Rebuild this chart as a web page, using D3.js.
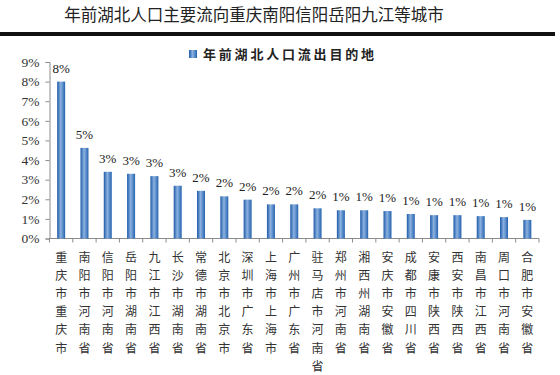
<!DOCTYPE html>
<html>
<head>
<meta charset="utf-8">
<script src="https://cdn.jsdelivr.net/npm/d3@7"></script>
<style>
  body { margin: 0; background: #fff; }
  svg { display: block; }
</style>
</head>
<body>
<script>
// data
var cities = ["重庆市重庆市", "南阳市河南省", "信阳市河南省", "岳阳市湖南省", "九江市江西省",
    "长沙市湖南省", "常德市湖南省", "北京市北京市", "深圳市广东省", "上海市上海市",
    "广州市广东省", "驻马店市河南省", "郑州市河南省", "湘西州湖南省", "安庆市安徽省",
    "成都市四川省", "安康市陕西省", "西安市陕西省", "南昌市江西省", "周口市河南省",
    "合肥市安徽省"];
var shares = [0.080, 0.0462, 0.0340, 0.0330, 0.0318, 0.0269, 0.0243, 0.0215, 0.0198, 0.0174,
    0.0174, 0.0154, 0.0144, 0.0144, 0.0140, 0.0125, 0.0119, 0.0119, 0.0114, 0.0109, 0.0095];
var yTicks = [0, 0.01, 0.02, 0.03, 0.04, 0.05, 0.06, 0.07, 0.08, 0.09];
var title = "年前湖北人口主要流向重庆南阳信阳岳阳九江等城市";
var legendLabel = "年前湖北人口流出目的地";

var width = 560, height = 375,
    margin = {top: 62, right: 21, bottom: 136, left: 49.5},
    pct = d3.format(".0%");

var svg = d3.select("body").append("svg")
    .attr("width", width)
    .attr("height", height);

// bar gradient: darker edges, lighter middle
var grad = svg.append("defs").append("linearGradient")
    .attr("id", "barFill")
    .attr("x1", "0%").attr("x2", "100%");
grad.append("stop").attr("offset", "0%").attr("stop-color", "#1d5aa8");
grad.append("stop").attr("offset", "45%").attr("stop-color", "#8cb2e0");
grad.append("stop").attr("offset", "100%").attr("stop-color", "#2462b0");

// title + rule
svg.append("text")
    .attr("x", 254)
    .attr("y", 21)
    .attr("text-anchor", "middle")
    .style("font-family", "'Noto Sans CJK SC', sans-serif")
    .style("font-size", "16.5px")
    .style("fill", "#222")
    .text(title);

svg.append("rect")
    .attr("x", 0).attr("y", 32)
    .attr("width", 555).attr("height", 4)
    .attr("fill", "#111");

var x = d3.scaleBand()
    .domain(cities)
    .range([margin.left, width - margin.right]);

var y = d3.scaleLinear()
    .domain([0, 0.09])
    .range([height - margin.bottom - 0.5, margin.top]);

// y axis
var yAxis = svg.append("g")
    .attr("transform", "translate(" + margin.left + ",0)")
    .call(d3.axisLeft(y).tickValues(yTicks).tickFormat(pct).tickSize(4).tickPadding(6));
yAxis.select(".domain").attr("stroke", "#8c8c8c");
yAxis.selectAll(".tick line").attr("stroke", "#8c8c8c");
yAxis.selectAll("text")
    .style("font-family", "'Liberation Serif', serif")
    .style("font-size", "13.5px")
    .style("fill", "#333");

// x axis baseline with ticks at band boundaries
var base = y(0);
svg.append("line")
    .attr("x1", margin.left).attr("x2", width - margin.right)
    .attr("y1", base).attr("y2", base)
    .attr("stroke", "#8c8c8c");
svg.append("g").selectAll("line")
    .data(cities.concat(["end"]))
    .enter().append("line")
    .attr("x1", function (d, i) { return margin.left + i * x.step(); })
    .attr("x2", function (d, i) { return margin.left + i * x.step(); })
    .attr("y1", base).attr("y2", base + 4)
    .attr("stroke", "#8c8c8c");

// bars
var barW = 8;
svg.append("g").selectAll("rect")
    .data(shares)
    .enter().append("rect")
    .attr("x", function (d, i) { return x(cities[i]) + x.bandwidth() / 2 - barW / 2; })
    .attr("y", function (d) { return y(d); })
    .attr("width", barW)
    .attr("height", function (d) { return base - y(d); })
    .attr("fill", "url(#barFill)");

// value labels
svg.append("g").selectAll("text")
    .data(shares)
    .enter().append("text")
    .attr("x", function (d, i) { return x(cities[i]) + x.bandwidth() / 2; })
    .attr("y", function (d) { return y(d) - 9; })
    .attr("text-anchor", "middle")
    .style("font-family", "'Liberation Serif', serif")
    .style("font-size", "13px")
    .style("fill", "#222")
    .text(function (d) { return pct(d); });

// vertical category labels, one character per line
var cat = svg.append("g").selectAll("text")
    .data(cities)
    .enter().append("text")
    .attr("text-anchor", "middle")
    .style("font-family", "'Noto Sans CJK SC', sans-serif")
    .style("font-size", "12px")
    .style("fill", "#333");
cat.each(function (d) {
    var t = d3.select(this),
        cx = x(d) + x.bandwidth() / 2;
    d.split("").forEach(function (ch, k) {
        t.append("tspan")
            .attr("x", cx)
            .attr("y", 262 + k * 18.1)
            .text(ch);
    });
});

// legend
svg.append("rect")
    .attr("x", 189).attr("y", 50)
    .attr("width", 8).attr("height", 8)
    .attr("fill", "url(#barFill)");
svg.append("text")
    .attr("x", 203)
    .attr("y", 59)
    .style("font-family", "'Noto Sans CJK SC', sans-serif")
    .style("font-size", "13px")
    .style("font-weight", "bold")
    .style("letter-spacing", "2.8px")
    .style("fill", "#222")
    .text(legendLabel);
</script>
</body>
</html>
